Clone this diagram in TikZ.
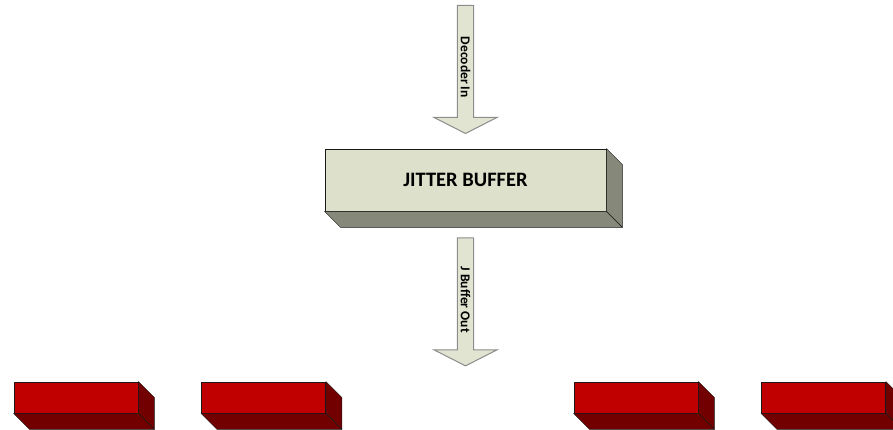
\documentclass[tikz,border=0pt]{standalone}
\usepackage{fontspec}
\setmainfont{Carlito}
\usetikzlibrary{shapes.arrows}
\definecolor{sage}{HTML}{DDE0CA}
\definecolor{sagedark}{HTML}{868979}
\definecolor{pale}{HTML}{E1E4D0}
\definecolor{crimson}{HTML}{C00000}
\definecolor{maroon}{HTML}{720000}

% side and bottom faces behind a front node
\newcommand{\slabsides}[2]{%
\fill[#2,draw=black!90,line join=round] (#1.north east) -- ++(16,16) -- ([shift={(16,16)}]#1.south east) -- (#1.south east) -- cycle;
\fill[#2,draw=black!90,line join=round] (#1.south west) -- ++(16,16) -- ([shift={(16,16)}]#1.south east) -- (#1.south east) -- cycle;}

\begin{document}
\begin{tikzpicture}[x=1pt,y=-1pt,
  front/.style={draw=black!90,line width=0.8pt,inner sep=0pt,minimum width=#1},
  flow/.style={single arrow,draw=black!45,fill=pale,line width=1pt,rotate=-90,anchor=tail,
    inner sep=0pt,minimum width=63pt,minimum height=128pt,single arrow head extend=15pt,
    single arrow tip angle=126,font=\fontsize{13.5}{16}\selectfont\bfseries}]
\clip (0,0) rectangle (893,430);

\node[front=281pt,minimum height=62pt,fill=sage,font=\fontsize{20.5}{24}\selectfont\bfseries] (buffer) at (465.5,180) {JITTER BUFFER};
\slabsides{buffer}{sagedark}

\node[flow] (decin) at (465.5,5) {Decoder In};
\node[flow] (jbout) at ([yshift=-26pt]buffer.south) {J Buffer Out};

% output blocks along the bottom
\foreach \cx [count=\i] in {76,263.5,636,823.5}{
  \node[front=124pt,minimum height=31pt,fill=crimson] (slot\i) at (\cx,397.5) {};
  \slabsides{slot\i}{maroon}
}
\end{tikzpicture}
\end{document}
